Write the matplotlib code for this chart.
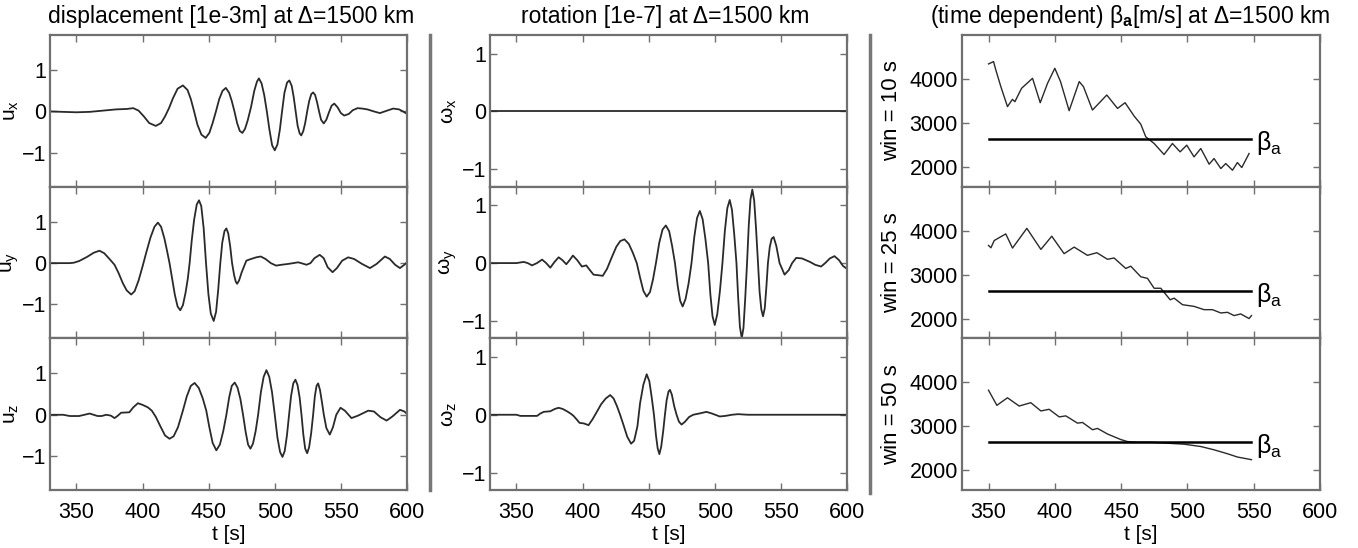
import matplotlib.pyplot as plt
from matplotlib.lines import Line2D

plt.rcParams['font.family'] = ['Liberation Sans', 'DejaVu Sans']
plt.rcParams['mathtext.fontset'] = 'custom'
plt.rcParams['mathtext.rm'] = 'Liberation Sans'
plt.rcParams['mathtext.it'] = 'Liberation Sans'
plt.rcParams['mathtext.bf'] = 'Liberation Sans:bold'

# ---- displacement traces [1e-3 m] ----
ux_t = [330, 340, 350, 360, 370, 380, 388, 393, 397, 401, 405, 410, 414, 417, 420, 423, 426.5, 430.5, 434, 436.5,
        439, 441.5, 444.5, 447.7, 450.5, 453, 455.5, 458, 460.5, 463, 465.5, 467.5, 469.5, 471.5, 473.5, 475.5,
        477.5, 479.5, 482, 484.5, 486.5, 488, 490, 492, 494, 496, 498, 500, 502, 503.8, 505.5, 507.3, 509.3, 511,
        512.8, 514.3, 515.8, 517.3, 518.8, 520, 521.5, 523, 524.5, 526, 527.6, 529, 530.5, 532, 533.5, 535, 537,
        539, 541, 543, 545, 547.5, 550, 552.5, 556, 559, 562.6, 566, 570, 575, 579.5, 584, 589.6, 594, 597, 600]
ux_v = [0.00, -0.01, -0.02, -0.01, 0.02, 0.05, 0.06, 0.08, 0.02, -0.12, -0.28, -0.35, -0.28, -0.12, 0.08, 0.32,
        0.55, 0.63, 0.52, 0.30, 0.00, -0.32, -0.56, -0.64, -0.52, -0.28, 0.00, 0.30, 0.50, 0.57, 0.45, 0.25, 0.00,
        -0.28, -0.47, -0.52, -0.42, -0.22, 0.10, 0.50, 0.72, 0.80, 0.68, 0.40, 0.00, -0.45, -0.82, -0.94, -0.80,
        -0.45, 0.00, 0.45, 0.70, 0.75, 0.62, 0.35, 0.00, -0.35, -0.53, -0.58, -0.48, -0.28, 0.00, 0.25, 0.42, 0.46,
        0.40, 0.22, 0.00, -0.20, -0.29, -0.20, -0.02, 0.14, 0.19, 0.10, -0.04, -0.10, -0.06, 0.03, 0.08, 0.07, 0.05,
        0.00, -0.04, 0.01, 0.07, 0.05, 0.00, -0.06]

uy_t = [330, 345, 348, 352, 358, 363, 367.4, 371, 375, 378.8, 382, 385, 388, 391.4, 394, 397, 400, 403, 406, 409,
        411.6, 414, 416.5, 418.5, 420.4, 422.5, 424.5, 426.5, 428.5, 430.5, 432.5, 434.2, 435.6, 437.2, 439, 441,
        442.7, 444.4, 446.2, 448, 449.8, 451.6, 453.8, 455.6, 457.2, 458.8, 460.3, 462, 463.4, 464.8, 466.3, 467.7,
        469.3, 470.5, 471.5, 473, 475, 478.5, 482, 486, 489.4, 493, 497, 501, 505, 510, 514, 517.7, 521, 524, 527,
        530, 534, 537, 540, 543.7, 547, 551, 555.5, 560, 566, 572, 577, 583.3, 587, 591, 594.7, 598, 600]
uy_v = [0.00, 0.00, 0.01, 0.05, 0.15, 0.25, 0.30, 0.24, 0.10, -0.04, -0.25, -0.48, -0.66, -0.76, -0.68, -0.42,
        -0.08, 0.28, 0.62, 0.88, 0.98, 0.88, 0.60, 0.30, 0.00, -0.40, -0.78, -1.05, -1.14, -1.02, -0.72, -0.38,
        0.00, 0.55, 1.05, 1.42, 1.52, 1.38, 0.85, 0.00, -0.75, -1.22, -1.40, -1.18, -0.65, 0.00, 0.50, 0.78, 0.84,
        0.72, 0.40, 0.00, -0.30, -0.45, -0.50, -0.42, -0.22, 0.06, 0.10, 0.14, 0.16, 0.10, 0.00, -0.06, -0.04,
        -0.02, 0.00, 0.02, -0.01, -0.04, 0.00, 0.12, 0.20, 0.12, -0.10, -0.22, -0.12, 0.06, 0.14, 0.10, -0.02,
        -0.12, -0.02, 0.16, 0.10, -0.04, -0.12, -0.04, 0.02]

uz_t = [330, 340, 345, 352, 356, 360, 363, 366, 369, 372.5, 376, 378.8, 381, 383.8, 390, 393, 396.5, 400, 404,
        407, 410, 413.5, 417, 420.4, 423.5, 426.8, 430.5, 433.5, 436.5, 439.4, 442.5, 445.5, 448.2, 450.5, 453,
        455.8, 458.5, 461, 463.4, 465.5, 467.5, 469.7, 471.8, 474, 476, 478, 479.8, 481.6, 483.5, 485.5, 487.4,
        489.5, 491.6, 493.7, 495.8, 497.9, 500, 502, 504, 505.8, 507.5, 509.2, 510.8, 512.3, 514, 515.6, 517.2,
        518.8, 520.2, 521.6, 523, 524.5, 526, 527.5, 529, 530.3, 531.6, 532.8, 534.2, 535.7, 537.1, 539, 541.6,
        544, 546.5, 549.7, 553, 558, 563, 570.7, 575, 580, 584.6, 589, 594.7, 598, 600]
uz_v = [0.00, 0.00, -0.03, -0.03, 0.00, 0.03, 0.00, -0.03, -0.03, 0.00, -0.02, -0.08, -0.03, 0.05, 0.06, 0.18,
        0.28, 0.24, 0.18, 0.10, -0.05, -0.28, -0.50, -0.58, -0.52, -0.30, 0.10, 0.45, 0.70, 0.77, 0.65, 0.40, 0.10,
        -0.30, -0.68, -0.86, -0.72, -0.40, 0.00, 0.42, 0.70, 0.78, 0.66, 0.38, 0.00, -0.42, -0.72, -0.82, -0.70,
        -0.40, 0.00, 0.55, 0.92, 1.08, 0.92, 0.55, 0.00, -0.55, -0.90, -1.02, -0.88, -0.50, 0.00, 0.45, 0.76, 0.85,
        0.72, 0.42, 0.00, -0.48, -0.82, -0.93, -0.78, -0.45, 0.00, 0.45, 0.70, 0.76, 0.60, 0.30, 0.00, -0.32,
        -0.48, -0.30, 0.00, 0.17, 0.10, -0.08, -0.02, 0.10, 0.08, -0.06, -0.14, -0.04, 0.12, 0.08, 0.02]

# ---- rotation traces [1e-7] ----
wx_t = [330, 600]
wx_v = [0.0, 0.0]

wy_t = [330, 350, 355.5, 358.5, 361.8, 365.5, 369.4, 372.5, 375.6, 378.8, 381.9, 384.8, 387.7, 390.2, 392.7, 396,
        399.5, 402.8, 405.5, 408.3, 412, 415.3, 418.5, 422.1, 425.5, 428.5, 431.7, 435, 438, 441, 443.5, 446,
        448.5, 451, 453.3, 455.5, 458, 460.5, 463, 465.5, 467.7, 469.9, 472, 473.8, 475.7, 477.9, 480.2, 482.4,
        484.5, 486.6, 488.7, 490.8, 492.9, 495, 496.7, 498.3, 500, 501.9, 503.9, 505.8, 507.6, 509.5, 511.3, 513,
        514.7, 516.4, 517.7, 519, 520.4, 521.7, 523, 524.4, 525.7, 527, 528.4, 529.8, 531.2, 532.7, 533.9, 535.2,
        536.5, 537.8, 539, 540.2, 541.6, 543, 544.5, 546.5, 549, 552.8, 556, 558.5, 561.6, 566, 572, 576, 580.4,
        583.5, 587, 590.5, 594, 597, 600]
wy_v = [0.00, 0.00, 0.02, 0.00, -0.04, 0.00, 0.06, 0.00, -0.08, 0.02, 0.10, 0.05, -0.02, 0.05, 0.13, 0.05, -0.06,
        -0.04, -0.12, -0.20, -0.21, -0.22, -0.10, 0.10, 0.28, 0.38, 0.41, 0.33, 0.18, 0.00, -0.25, -0.48, -0.58,
        -0.50, -0.28, 0.00, 0.35, 0.58, 0.65, 0.55, 0.30, 0.00, -0.40, -0.65, -0.75, -0.62, -0.35, 0.00, 0.45, 0.78,
        0.90, 0.76, 0.42, 0.00, -0.55, -0.92, -1.07, -0.88, -0.48, 0.00, 0.55, 0.95, 1.09, 0.92, 0.50, 0.00, -0.60,
        -1.10, -1.30, -1.12, -0.62, 0.00, 0.65, 1.10, 1.27, 1.08, 0.60, 0.00, -0.50, -0.80, -0.92, -0.78, -0.42,
        0.00, 0.28, 0.42, 0.45, 0.30, 0.00, -0.20, -0.12, 0.00, 0.09, 0.08, 0.02, -0.03, -0.06, 0.00, 0.08, 0.12,
        0.05, -0.05, -0.10]

wz_t = [330, 350, 353, 360, 365.6, 368, 370.6, 375.6, 379, 381.9, 385, 388.2, 391, 393.2, 395.5, 397.7, 401,
        404.5, 407.5, 410.8, 414, 417.5, 420.9, 423.5, 426, 428.4, 431, 433.8, 436.7, 439, 441.5, 443.5, 446,
        448.5, 450.5, 452.3, 454, 455.5, 456.8, 458.1, 459.5, 461, 462.3, 463.6, 465, 466.1, 467.5, 469.3, 471.1,
        472.9, 474.9, 477.5, 480.5, 483.7, 488, 493.7, 498, 503.8, 508, 513, 517.6, 525, 600]
wz_v = [0.00, 0.00, -0.02, -0.02, -0.02, 0.02, 0.05, 0.06, 0.10, 0.12, 0.10, 0.06, 0.02, -0.02, -0.08, -0.14,
        -0.15, -0.18, -0.08, 0.05, 0.18, 0.28, 0.34, 0.28, 0.15, 0.00, -0.18, -0.38, -0.50, -0.45, -0.20, 0.20,
        0.52, 0.70, 0.58, 0.30, 0.00, -0.35, -0.58, -0.68, -0.55, -0.28, 0.00, 0.25, 0.40, 0.43, 0.35, 0.15, 0.00,
        -0.12, -0.17, -0.12, -0.04, 0.00, 0.02, 0.05, 0.02, -0.03, -0.02, 0.00, 0.01, 0.00, 0.00]

# ---- time dependent beta_a [m/s] ----
b10_t = [350, 353.8, 355.5, 359.3, 364.3, 368, 369.9, 374.9, 383.2, 389, 394.5, 400, 404.3, 410.8, 418.4, 421.6,
         428.4, 439.2, 447.3, 453, 459.8, 464.8, 468.6, 474.9, 482.4, 488.7, 494.5, 499.5, 505, 510.1, 516.4,
         520.1, 525.2, 528.9, 534, 537.7, 541, 546.5]
b10_v = [4342, 4395, 4205, 3825, 3370, 3536, 3483, 3787, 4015, 3460, 3900, 4243, 3940, 3278, 3940, 3825, 3293,
         3635, 3330, 3460, 3156, 2973, 2684, 2532, 2281, 2532, 2342, 2494, 2228, 2418, 2061, 2190, 1962, 2076,
         1924, 2099, 1985, 2304]

b25_t = [350, 351.8, 354.3, 363, 368.1, 378.9, 389.5, 397.7, 407, 414.6, 424.6, 431.7, 439.7, 444.7, 453.5, 457.3,
         464.8, 469.9, 474.9, 479.9, 487, 490, 496.3, 505, 512.6, 518.9, 525.2, 530.2, 535.2, 540.2, 546.5, 548.3]
b25_v = [3663, 3610, 3775, 3925, 3603, 4052, 3573, 3873, 3476, 3625, 3438, 3498, 3348, 3378, 3139, 3191, 2951,
         2914, 2689, 2689, 2427, 2464, 2315, 2277, 2202, 2202, 2127, 2142, 2067, 2105, 2000, 2067]

b50_t = [350, 356.3, 364.3, 373.1, 381.9, 389.5, 395.7, 403.3, 408.3, 417.1, 420.9, 428.4, 432.2, 439.7, 449.8,
         454.8, 462.3, 472.4, 484.9, 497.5, 510.1, 520.1, 530.2, 537.7, 548.3]
b50_v = [3820, 3476, 3648, 3460, 3536, 3348, 3386, 3213, 3236, 3071, 3086, 2921, 2951, 2824, 2697, 2652, 2637,
         2637, 2614, 2592, 2539, 2464, 2375, 2300, 2240]

beta_a = [2625, 2635, 2635]
beta_span = [350, 548]

disp_labels = [r'$\mathrm{u_x}$', r'$\mathrm{u_y}$', r'$\mathrm{u_z}$']
rot_labels = [r'$\omega_\mathrm{x}$', r'$\omega_\mathrm{y}$', r'$\omega_\mathrm{z}$']
win_labels = ['win = 10 s', 'win = 25 s', 'win = 50 s']

W, H = 1358, 548
fig = plt.figure(figsize=(W / 100, H / 100), dpi=100)

top, bot = 35, 490
ph = (bot - top) / 3
cols = [(50, 357), (490, 357), (962, 358)]
spine_c = '#707070'
trace_c = '#2a2a2a'


def make_ax(col, row):
    x0, w = cols[col]
    y0 = top + row * ph
    ax = fig.add_axes([x0 / W, 1 - (y0 + ph) / H, w / W, ph / H])
    for s in ax.spines.values():
        s.set_color(spine_c)
        s.set_linewidth(1.6)
    ax.tick_params(direction='in', top=True, right=True, length=5, width=1, color=spine_c,
                   labelsize=15.5)
    ax.tick_params(axis='y', pad=3)
    ax.tick_params(axis='x', pad=9)
    ax.set_xlim(330, 600)
    ax.set_xticks([350, 400, 450, 500, 550, 600])
    if row < 2:
        ax.tick_params(labelbottom=False)
    else:
        ax.set_xlabel('t [s]', fontsize=15, labelpad=1)
    return ax


disp = [(ux_t, ux_v), (uy_t, uy_v), (uz_t, uz_v)]
rot = [(wx_t, wx_v), (wy_t, wy_v), (wz_t, wz_v)]
beta = [(b10_t, b10_v), (b25_t, b25_v), (b50_t, b50_v)]

for r in range(3):
    ax = make_ax(0, r)
    ax.plot(disp[r][0], disp[r][1], color=trace_c, lw=1.3)
    ax.set_ylim(-1.82, 1.85)
    ax.set_yticks([-1, 0, 1])
    ax.set_ylabel(disp_labels[r], fontsize=15, labelpad=0)

    ax = make_ax(1, r)
    ax.plot(rot[r][0], rot[r][1], color=trace_c, lw=1.3)
    ax.set_ylim(-1.3, 1.32)
    ax.set_yticks([-1, 0, 1])
    ax.set_ylabel(rot_labels[r], fontsize=15, labelpad=2)

    ax = make_ax(2, r)
    ax.plot(beta[r][0], beta[r][1], color=trace_c, lw=1.0)
    ax.plot(beta_span, [beta_a[r], beta_a[r]], color='black', lw=1.8)
    ax.text(552, beta_a[r] - 90, r'$\beta_\mathrm{a}$', fontsize=18, va='center', ha='left')
    ax.set_ylim(1550, 5000)
    ax.set_yticks([2000, 3000, 4000])
    ax.set_ylabel(win_labels[r], fontsize=16, labelpad=5)

# column separators
for xs, yb in [(430, 490), (870, 493)]:
    fig.add_artist(Line2D([xs / W, xs / W], [1 - 35 / H, 1 - yb / H], transform=fig.transFigure,
                          color='#777777', lw=2.5))

fig.text(231 / W, 1 - 17 / H, 'displacement [1e-3m] at \u0394=1500 km', fontsize=16.5, ha='center', va='center')
fig.text(665 / W, 1 - 17 / H, 'rotation [1e-7] at \u0394=1500 km', fontsize=16.5, ha='center', va='center')
fig.text(1130 / W, 1 - 17 / H, r'(time dependent) $\beta_\mathbf{a}$[m/s] at $\Delta$=1500 km', fontsize=16.5,
         ha='center', va='center')

plt.savefig('out.png', dpi=100)
